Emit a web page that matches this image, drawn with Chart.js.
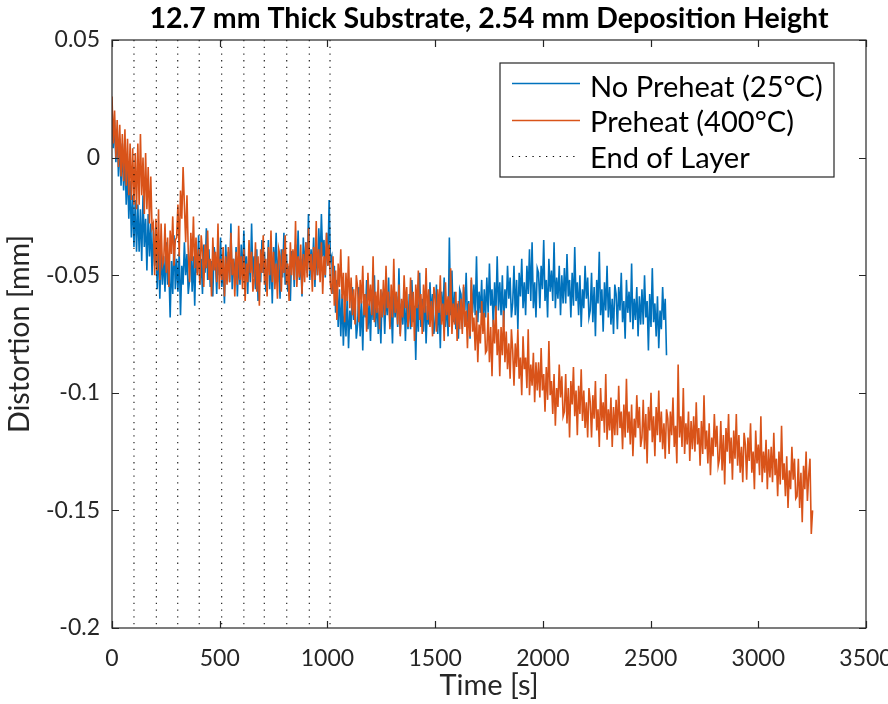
<!DOCTYPE html>
<html lang="en">
  <head>
    <meta charset="UTF-8" />
    <title>12.7 mm Thick Substrate, 2.54 mm Deposition Height</title>
    <script src="https://cdn.jsdelivr.net/npm/chart.js"></script>
    <style>
      html, body { margin: 0; padding: 0; background: #fff; }
    </style>
  </head>
  <body>
    <canvas id="chart" width="888" height="704"></canvas>

    <script>
      // sampling interval of the values below (s)
      const sampleStep = 6;

      // No Preheat (25°C) distortion [mm], one row = 60 s
      const noPreheat = [
        0.022, 0.004, 0.016, -0.002, 0.012, -0.008, 0.008, -0.012, 0.006, -0.014,
        0.002, -0.020, -0.004, -0.026, -0.010, -0.034, -0.016, -0.038, -0.018, -0.040,
        -0.020, -0.040, -0.022, -0.044, -0.016, -0.038, -0.026, -0.048, -0.024, -0.042,
        -0.028, -0.050, -0.030, -0.046, -0.034, -0.056, -0.036, -0.060, -0.038, -0.054,
        -0.042, -0.057, -0.036, -0.054, -0.047, -0.068, -0.044, -0.058, -0.033, -0.056,
        -0.043, -0.057, -0.040, -0.067, -0.046, -0.054, -0.036, -0.050, -0.041, -0.058,
        -0.052, -0.036, -0.057, -0.042, -0.063, -0.039, -0.049, -0.033, -0.054, -0.043,
        -0.058, -0.037, -0.049, -0.030, -0.052, -0.039, -0.055, -0.044, -0.059, -0.038,
        -0.043, -0.058, -0.040, -0.050, -0.034, -0.055, -0.046, -0.062, -0.037, -0.051,
        -0.040, -0.053, -0.028, -0.056, -0.043, -0.052, -0.038, -0.059, -0.042, -0.054,
        -0.037, -0.052, -0.031, -0.049, -0.042, -0.058, -0.039, -0.053, -0.028, -0.051,
        -0.042, -0.056, -0.039, -0.061, -0.045, -0.053, -0.035, -0.049, -0.040, -0.057,
        -0.051, -0.035, -0.056, -0.041, -0.062, -0.038, -0.048, -0.032, -0.053, -0.042,
        -0.060, -0.039, -0.051, -0.032, -0.054, -0.041, -0.057, -0.046, -0.061, -0.040,
        -0.040, -0.055, -0.037, -0.047, -0.031, -0.052, -0.043, -0.059, -0.034, -0.048,
        -0.036, -0.049, -0.024, -0.052, -0.039, -0.048, -0.034, -0.055, -0.038, -0.050,
        -0.030, -0.045, -0.024, -0.042, -0.035, -0.051, -0.032, -0.046, -0.018, -0.044,
        -0.042, -0.058, -0.046, -0.066, -0.052, -0.072, -0.056, -0.076, -0.058, -0.080,
        -0.062, -0.076, -0.059, -0.081, -0.065, -0.073, -0.055, -0.069, -0.060, -0.077,
        -0.071, -0.055, -0.076, -0.061, -0.082, -0.058, -0.068, -0.052, -0.073, -0.062,
        -0.078, -0.057, -0.069, -0.050, -0.072, -0.059, -0.075, -0.064, -0.079, -0.058,
        -0.060, -0.075, -0.057, -0.067, -0.051, -0.072, -0.063, -0.079, -0.054, -0.068,
        -0.059, -0.072, -0.047, -0.075, -0.062, -0.071, -0.057, -0.078, -0.061, -0.073,
        -0.058, -0.073, -0.052, -0.070, -0.063, -0.086, -0.060, -0.074, -0.049, -0.072,
        -0.060, -0.074, -0.057, -0.079, -0.063, -0.071, -0.053, -0.067, -0.058, -0.075,
        -0.070, -0.054, -0.075, -0.060, -0.081, -0.057, -0.067, -0.051, -0.072, -0.061,
        -0.076, -0.034, -0.067, -0.048, -0.070, -0.057, -0.073, -0.062, -0.077, -0.056,
        -0.058, -0.073, -0.055, -0.065, -0.049, -0.070, -0.061, -0.077, -0.052, -0.066,
        -0.054, -0.067, -0.042, -0.070, -0.057, -0.066, -0.052, -0.073, -0.056, -0.068,
        -0.051, -0.066, -0.045, -0.063, -0.056, -0.072, -0.053, -0.067, -0.042, -0.065,
        -0.053, -0.067, -0.050, -0.072, -0.056, -0.064, -0.046, -0.060, -0.051, -0.068,
        -0.062, -0.046, -0.067, -0.052, -0.073, -0.049, -0.059, -0.043, -0.064, -0.053,
        -0.067, -0.046, -0.058, -0.039, -0.061, -0.036, -0.064, -0.053, -0.068, -0.047,
        -0.049, -0.064, -0.046, -0.056, -0.035, -0.061, -0.052, -0.068, -0.043, -0.057,
        -0.048, -0.061, -0.036, -0.064, -0.051, -0.060, -0.046, -0.067, -0.050, -0.062,
        -0.047, -0.062, -0.041, -0.059, -0.052, -0.068, -0.049, -0.063, -0.038, -0.061,
        -0.053, -0.067, -0.050, -0.072, -0.056, -0.064, -0.046, -0.060, -0.051, -0.068,
        -0.065, -0.049, -0.070, -0.055, -0.076, -0.052, -0.062, -0.040, -0.067, -0.056,
        -0.074, -0.053, -0.065, -0.046, -0.068, -0.055, -0.071, -0.060, -0.075, -0.054,
        -0.058, -0.073, -0.055, -0.065, -0.049, -0.070, -0.061, -0.077, -0.052, -0.066,
        -0.057, -0.070, -0.045, -0.073, -0.060, -0.069, -0.055, -0.076, -0.059, -0.071,
        -0.056, -0.071, -0.050, -0.068, -0.061, -0.082, -0.058, -0.072, -0.047, -0.070,
        -0.062, -0.076, -0.059, -0.081, -0.065, -0.073, -0.055, -0.069, -0.060, -0.084
      ];

      // Preheat (400°C) distortion [mm], one row = 60 s
      const preheat = [
        0.026, 0.006, 0.020, 0.000, 0.016, -0.004, 0.014, -0.008, 0.010, -0.010,
        0.012, -0.012, 0.008, -0.016, 0.006, -0.018, 0.004, -0.020, 0.002, -0.022,
        0.006, -0.020, 0.010, -0.016, 0.000, -0.024, 0.002, -0.022, -0.004, -0.028,
        -0.008, -0.030, -0.028, -0.050, -0.026, -0.048, -0.022, -0.052, -0.028, -0.046,
        -0.044, -0.028, -0.049, -0.034, -0.055, -0.031, -0.041, -0.025, -0.046, -0.035,
        -0.034, -0.020, -0.042, -0.014, -0.026, -0.004, -0.020, -0.036, -0.016, -0.040,
        -0.053, -0.032, -0.044, -0.025, -0.047, -0.034, -0.050, -0.039, -0.054, -0.033,
        -0.040, -0.055, -0.037, -0.047, -0.031, -0.052, -0.043, -0.059, -0.034, -0.048,
        -0.040, -0.053, -0.028, -0.056, -0.043, -0.052, -0.038, -0.059, -0.042, -0.054,
        -0.038, -0.053, -0.032, -0.050, -0.043, -0.059, -0.040, -0.054, -0.029, -0.052,
        -0.042, -0.056, -0.039, -0.061, -0.045, -0.053, -0.035, -0.049, -0.040, -0.057,
        -0.052, -0.036, -0.057, -0.042, -0.063, -0.039, -0.049, -0.033, -0.054, -0.043,
        -0.059, -0.038, -0.050, -0.031, -0.053, -0.040, -0.056, -0.045, -0.060, -0.039,
        -0.042, -0.057, -0.039, -0.049, -0.033, -0.054, -0.045, -0.061, -0.036, -0.050,
        -0.039, -0.052, -0.027, -0.055, -0.042, -0.051, -0.037, -0.058, -0.041, -0.053,
        -0.036, -0.051, -0.030, -0.048, -0.041, -0.057, -0.038, -0.052, -0.027, -0.050,
        -0.039, -0.053, -0.036, -0.058, -0.042, -0.050, -0.032, -0.046, -0.037, -0.054,
        -0.058, -0.042, -0.063, -0.048, -0.069, -0.045, -0.055, -0.039, -0.060, -0.049,
        -0.070, -0.049, -0.061, -0.042, -0.064, -0.051, -0.067, -0.056, -0.071, -0.050,
        -0.055, -0.070, -0.052, -0.062, -0.046, -0.067, -0.058, -0.074, -0.049, -0.063,
        -0.054, -0.067, -0.042, -0.070, -0.057, -0.066, -0.052, -0.073, -0.056, -0.068,
        -0.052, -0.067, -0.046, -0.064, -0.057, -0.073, -0.054, -0.068, -0.043, -0.066,
        -0.057, -0.071, -0.054, -0.076, -0.060, -0.068, -0.050, -0.064, -0.055, -0.072,
        -0.067, -0.051, -0.072, -0.057, -0.078, -0.054, -0.064, -0.048, -0.069, -0.058,
        -0.075, -0.054, -0.066, -0.047, -0.069, -0.056, -0.072, -0.061, -0.076, -0.055,
        -0.059, -0.074, -0.056, -0.066, -0.050, -0.071, -0.062, -0.078, -0.053, -0.067,
        -0.059, -0.072, -0.047, -0.075, -0.062, -0.071, -0.057, -0.078, -0.061, -0.073,
        -0.060, -0.075, -0.054, -0.072, -0.065, -0.081, -0.062, -0.076, -0.051, -0.074,
        -0.068, -0.082, -0.065, -0.087, -0.071, -0.079, -0.061, -0.075, -0.066, -0.083,
        -0.082, -0.066, -0.087, -0.072, -0.093, -0.069, -0.079, -0.063, -0.084, -0.073,
        -0.093, -0.072, -0.084, -0.065, -0.087, -0.074, -0.090, -0.079, -0.094, -0.073,
        -0.082, -0.097, -0.079, -0.089, -0.073, -0.094, -0.085, -0.101, -0.076, -0.090,
        -0.085, -0.098, -0.073, -0.101, -0.088, -0.097, -0.083, -0.104, -0.087, -0.099,
        -0.087, -0.102, -0.081, -0.099, -0.092, -0.108, -0.089, -0.103, -0.078, -0.101,
        -0.095, -0.109, -0.092, -0.114, -0.098, -0.106, -0.088, -0.102, -0.093, -0.110,
        -0.108, -0.092, -0.113, -0.098, -0.119, -0.095, -0.105, -0.089, -0.110, -0.099,
        -0.118, -0.097, -0.109, -0.090, -0.112, -0.099, -0.115, -0.104, -0.119, -0.098,
        -0.104, -0.119, -0.101, -0.111, -0.095, -0.116, -0.107, -0.123, -0.098, -0.112,
        -0.104, -0.117, -0.092, -0.120, -0.107, -0.116, -0.102, -0.123, -0.106, -0.118,
        -0.103, -0.118, -0.097, -0.115, -0.108, -0.124, -0.105, -0.119, -0.094, -0.117,
        -0.108, -0.122, -0.105, -0.127, -0.111, -0.119, -0.101, -0.115, -0.106, -0.123,
        -0.119, -0.103, -0.124, -0.109, -0.130, -0.106, -0.116, -0.100, -0.121, -0.110,
        -0.127, -0.106, -0.118, -0.099, -0.121, -0.108, -0.124, -0.113, -0.128, -0.107,
        -0.111, -0.126, -0.108, -0.118, -0.102, -0.123, -0.114, -0.130, -0.088, -0.119,
        -0.110, -0.123, -0.098, -0.126, -0.113, -0.122, -0.108, -0.129, -0.112, -0.124,
        -0.110, -0.125, -0.104, -0.122, -0.115, -0.131, -0.112, -0.126, -0.101, -0.124,
        -0.116, -0.130, -0.113, -0.135, -0.119, -0.127, -0.109, -0.123, -0.114, -0.131,
        -0.128, -0.112, -0.133, -0.118, -0.139, -0.115, -0.125, -0.109, -0.130, -0.119,
        -0.137, -0.116, -0.128, -0.109, -0.131, -0.118, -0.134, -0.123, -0.138, -0.117,
        -0.122, -0.137, -0.119, -0.129, -0.113, -0.134, -0.125, -0.141, -0.116, -0.130,
        -0.122, -0.135, -0.110, -0.138, -0.125, -0.134, -0.120, -0.141, -0.124, -0.136,
        -0.123, -0.138, -0.117, -0.135, -0.128, -0.144, -0.125, -0.139, -0.114, -0.137,
        -0.130, -0.144, -0.127, -0.149, -0.133, -0.141, -0.123, -0.137, -0.128, -0.145,
        -0.144, -0.128, -0.149, -0.134, -0.155, -0.131, -0.141, -0.125, -0.146, -0.135,
        -0.128, -0.160, -0.150
      ];

      // times where a deposited layer ends (s)
      const layerEnds = [102, 206, 305, 405, 509, 612, 707, 811, 916, 1012];

      const xTicks = [0, 500, 1000, 1500, 2000, 2500, 3000, 3500];
      const yTicks = [-0.2, -0.15, -0.1, -0.05, 0, 0.05];
      const yTickLabels = ["-0.2", "-0.15", "-0.1", "-0.05", "0", "0.05"];

      const seriesNames = ["No Preheat (25°C)", "Preheat (400°C)", "End of Layer"];
      const chartTitle = "12.7 mm Thick Substrate, 2.54 mm Deposition Height";
      const xTitle = "Time [s]";
      const yTitle = "Distortion [mm]";

      const blue = "#0072BD";
      const orange = "#D95319";
      const axisColor = "#262626";
      const font = "Lato";

      function toPoints(values) {
        return values.map((v, i) => ({ x: i * sampleStep, y: v }));
      }

      // font size that makes text the given width
      function fitFont(ctx, text, width, weight) {
        ctx.font = `${weight} 100px ${font}`;
        const size = (100 * width) / ctx.measureText(text).width;
        return `${weight} ${size.toFixed(1)}px ${font}`;
      }

      // box, inward ticks, titles and legend drawn MATLAB style
      const matlabFrame = {
        id: "matlabFrame",
        afterDraw(chart) {
          const { ctx, chartArea: a, scales } = chart;
          const x = scales.x;
          const y = scales.y;
          ctx.save();

          ctx.strokeStyle = axisColor;
          ctx.lineWidth = 1.2;
          ctx.strokeRect(a.left, a.top, a.right - a.left, a.bottom - a.top);

          ctx.beginPath();
          xTicks.forEach((v) => {
            const px = Math.round(x.getPixelForValue(v)) + 0.5;
            ctx.moveTo(px, a.bottom);
            ctx.lineTo(px, a.bottom - 7);
            ctx.moveTo(px, a.top);
            ctx.lineTo(px, a.top + 7);
          });
          yTicks.forEach((v) => {
            const py = Math.round(y.getPixelForValue(v)) + 0.5;
            ctx.moveTo(a.left, py);
            ctx.lineTo(a.left + 7, py);
            ctx.moveTo(a.right, py);
            ctx.lineTo(a.right - 7, py);
          });
          ctx.stroke();

          // title
          ctx.fillStyle = "#000";
          ctx.font = fitFont(ctx, chartTitle, 680, "bold");
          ctx.textAlign = "center";
          ctx.textBaseline = "alphabetic";
          ctx.fillText(chartTitle, (a.left + a.right) / 2, 28);

          // axis titles
          ctx.fillStyle = axisColor;
          ctx.font = fitFont(ctx, xTitle, 99, "normal");
          ctx.fillText(xTitle, (a.left + a.right) / 2, 695);
          ctx.save();
          ctx.font = fitFont(ctx, yTitle, 198, "normal");
          ctx.translate(29, (a.top + a.bottom) / 2);
          ctx.rotate(-Math.PI / 2);
          ctx.fillText(yTitle, 0, 0);
          ctx.restore();

          // legend
          const box = { left: 500, top: 63, right: 834, bottom: 177 };
          ctx.fillStyle = "#fff";
          ctx.fillRect(box.left, box.top, box.right - box.left, box.bottom - box.top);
          ctx.strokeStyle = axisColor;
          ctx.lineWidth = 1.2;
          ctx.strokeRect(box.left, box.top, box.right - box.left, box.bottom - box.top);

          const rows = [
            { color: blue, dash: [], width: 1.5, lineY: 83, textY: 97 },
            { color: orange, dash: [], width: 1.5, lineY: 120, textY: 132 },
            { color: "#000", dash: [1.3, 5.5], width: 1.2, lineY: 156, textY: 168 },
          ];
          ctx.font = fitFont(ctx, seriesNames[0], 233, "normal");
          ctx.textAlign = "left";
          rows.forEach((r, i) => {
            ctx.beginPath();
            ctx.setLineDash(r.dash);
            ctx.strokeStyle = r.color;
            ctx.lineWidth = r.width;
            ctx.moveTo(512, r.lineY + 0.5);
            ctx.lineTo(580, r.lineY + 0.5);
            ctx.stroke();
            ctx.fillStyle = "#000";
            ctx.fillText(seriesNames[i], 590, r.textY);
          });
          ctx.restore();
        },
      };

      const layerLines = layerEnds.map((t) => ({
        label: seriesNames[2],
        data: [
          { x: t, y: yTicks[yTicks.length - 1] },
          { x: t, y: yTicks[0] },
        ],
        borderColor: "rgba(0, 0, 0, 0.85)",
        borderWidth: 1.2,
        borderDash: [1.3, 5.4],
        pointRadius: 0,
        order: 0,
      }));

      new Chart(document.getElementById("chart"), {
        type: "line",
        data: {
          datasets: [
            {
              label: seriesNames[0],
              data: toPoints(noPreheat),
              borderColor: blue,
              borderWidth: 1.6,
              pointRadius: 0,
              tension: 0,
              order: 2,
            },
            {
              label: seriesNames[1],
              data: toPoints(preheat),
              borderColor: orange,
              borderWidth: 1.6,
              pointRadius: 0,
              tension: 0,
              order: 1,
            },
            ...layerLines,
          ],
        },
        options: {
          responsive: false,
          animation: false,
          devicePixelRatio: 1,
          layout: { padding: { left: 0, right: 22, top: 40, bottom: 0 } },
          plugins: {
            legend: { display: false },
            tooltip: { enabled: false },
          },
          scales: {
            x: {
              type: "linear",
              min: 0,
              max: 3500,
              afterBuildTicks: (s) => {
                s.ticks = xTicks.map((v) => ({ value: v }));
              },
              afterFit: (s) => {
                s.height = 76;
                s.paddingLeft = 0;
                s.paddingRight = 0;
              },
              grid: { display: false },
              border: { display: false },
              ticks: {
                autoSkip: false,
                maxRotation: 0,
                padding: 9,
                color: axisColor,
                font: { family: font, size: 23 },
                callback: (v) => String(v),
              },
            },
            y: {
              type: "linear",
              min: -0.2,
              max: 0.05,
              afterBuildTicks: (s) => {
                s.ticks = yTicks.map((v) => ({ value: v }));
              },
              afterFit: (s) => {
                s.width = 112;
              },
              grid: { display: false },
              border: { display: false },
              ticks: {
                padding: 4,
                color: axisColor,
                font: { family: font, size: 23 },
                callback: (v) => yTickLabels[yTicks.indexOf(v)],
              },
            },
          },
        },
        plugins: [matlabFrame],
      });
    </script>
  </body>
</html>
